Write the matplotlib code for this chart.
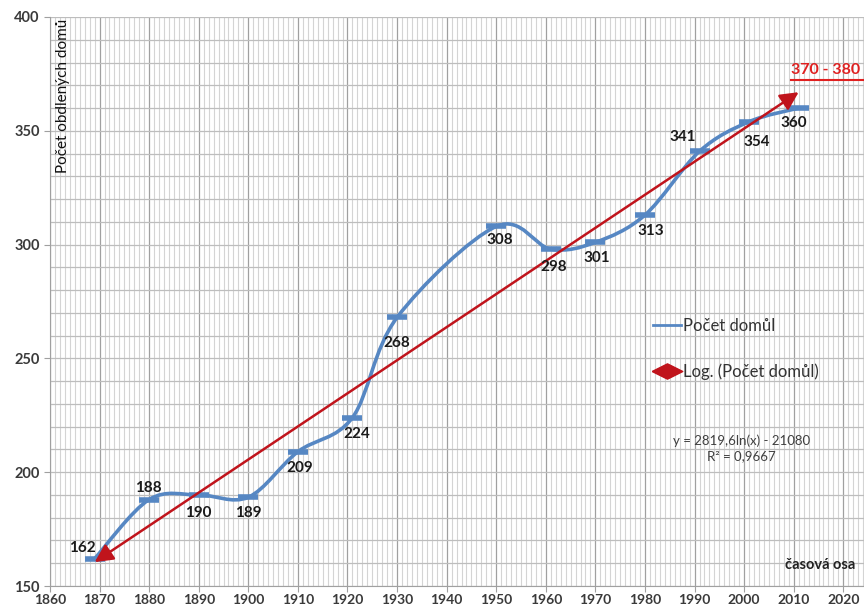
import numpy as np
import matplotlib.pyplot as plt
from matplotlib.path import Path
from matplotlib.patches import PathPatch
from matplotlib.lines import Line2D
from matplotlib.ticker import MultipleLocator

plt.rcParams['font.family'] = ['Lato', 'DejaVu Sans']

# census years and number of houses
years = [1869, 1880, 1890, 1900, 1910, 1921, 1930, 1950, 1961, 1970, 1980, 1991, 2001, 2011]
houses = [162, 188, 190, 189, 209, 224, 268, 308, 298, 301, 313, 341, 354, 360]

# log trend as printed in the chart
coef_a = 2819.6
coef_b = -21080
r2_text = 'R² = 0,9667'
trend_years = [1869, 2011]

# label offsets in pixels (dx, dy)
lab_off = [(-12, 11), (-1, 12), (0, -18), (0, -16), (2, -16), (4, -16), (0, -26),
           (4, -14), (3, -18), (1, -16), (6, -16), (-17, 14), (8, -20), (-5, -15)]

blue = '#5687c3'
red = '#c0141c'

fig = plt.figure(figsize=(8.64, 6.09), dpi=100)
ax = fig.add_axes([50/864, 23/609, 828/864, 569/609])
ax.set_xlim(1860, 2027)
ax.set_ylim(150, 400)

# grid
ax.xaxis.set_major_locator(MultipleLocator(10))
ax.xaxis.set_minor_locator(MultipleLocator(1))
ax.yaxis.set_major_locator(MultipleLocator(50))
ax.yaxis.set_minor_locator(MultipleLocator(10))
ax.grid(which='minor', axis='x', color='#d4d4d4', lw=0.8)
ax.grid(which='major', axis='x', color='#a0a0a0', lw=0.9)
ax.grid(which='both', axis='y', color='#bdbdbd', lw=0.9)
ax.set_axisbelow(True)
for s in ['top', 'right']:
    ax.spines[s].set_visible(False)
for s in ['left', 'bottom']:
    ax.spines[s].set_color('#a0a0a0')
ax.tick_params(which='minor', length=0)
ax.tick_params(which='major', length=4, color='#a0a0a0', labelcolor='#3a3a3a',
               labelsize=10.5)
ax.tick_params(axis='x', labelsize=10, pad=1.5)
for t in ax.get_xticklabels() + ax.get_yticklabels():
    t.set_fontweight('bold')

# smoothed line (bezier like excel)
pts = np.column_stack([years, houses]).astype(float)
n = len(pts)
verts = [pts[0]]
codes = [Path.MOVETO]
for i in range(n - 1):
    p0 = pts[max(i - 1, 0)]
    p1 = pts[i]
    p2 = pts[i + 1]
    p3 = pts[min(i + 2, n - 1)]
    verts += [p1 + (p2 - p0) / 6, p2 - (p3 - p1) / 6, p2]
    codes += [Path.CURVE4] * 3
ax.add_patch(PathPatch(Path(verts, codes), fill=False, edgecolor=blue, lw=2.6,
                       zorder=3))
ax.plot(years, houses, ls='none', marker='_', ms=14, mew=4, color=blue, zorder=4)

# trend arrow
ty = [coef_a * np.log(x) + coef_b for x in trend_years]
ax.annotate('', xy=(trend_years[0], ty[0]), xytext=(trend_years[1], ty[1]),
            arrowprops=dict(arrowstyle='<|-|>,head_length=1.1,head_width=0.55',
                            color=red, lw=1.8, shrinkA=0, shrinkB=0), zorder=5)

# data labels
for x, y, (dx, dy) in zip(years, houses, lab_off):
    ax.annotate(str(y), (x, y), xytext=(dx, dy), textcoords='offset pixels',
                ha='center', va='center', fontsize=11, fontweight='bold',
                color='#1a1a1a', zorder=6)

# legend
diamond = Path([(-1, 0), (0, 0.5), (1, 0), (0, -0.5), (-1, 0)])
h1 = Line2D([], [], color=blue, lw=2)
h2 = Line2D([], [], ls='none', marker=diamond, ms=22, color=red)
ax.legend([h1, h2], ['Počet domůl', 'Log. (Počet domůl)'], loc='upper left',
          bbox_to_anchor=(588/828, 1 - 286/569), frameon=False, fontsize=12,
          labelspacing=1.75, handlelength=1.7, handletextpad=0.1, labelcolor='#333333')

ax.text(1999.5, 210.5, f'y = {str(coef_a).replace(".", ",")}ln(x) - {abs(coef_b)}\n{r2_text}',
        ha='center', va='center', fontsize=9.5, color='#404040', linespacing=1.3)

# axis titles
fig.text(63/864, 1 - 19/609, 'Počet obdlených domů', rotation=90, ha='center',
         va='top', fontsize=11, color='#111111')
fig.text(820/864, 1 - 565/609, 'časová osa', ha='center', va='center',
         fontsize=10.5, fontweight='bold', color='#222222')

# prediction note
fig.text(791/864, 1 - 70/609, '370 - 380', ha='left', va='center', fontsize=11.5,
         fontweight='bold', color='#e02020')
fig.add_artist(Line2D([791/864, 1.0], [1 - 80/609, 1 - 80/609], color='#e02020',
                      lw=1.5, transform=fig.transFigure))

fig.savefig('out.png', dpi=100)
